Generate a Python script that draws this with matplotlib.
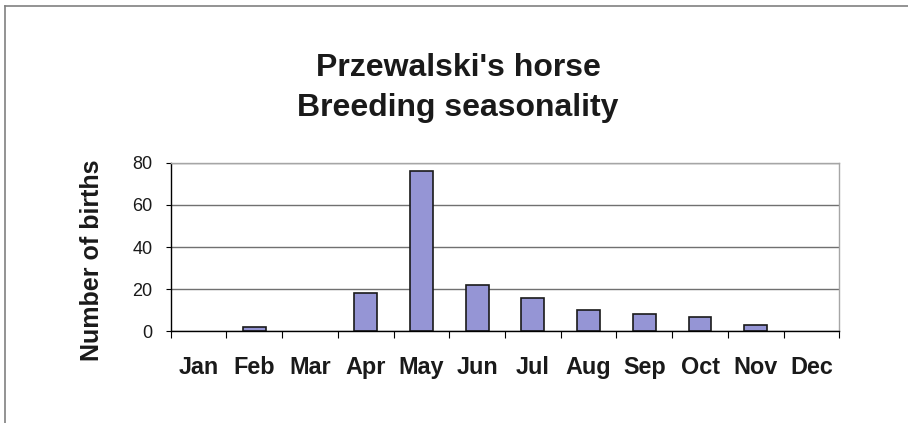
import numpy as np
import matplotlib
matplotlib.use('Agg')
import matplotlib.pyplot as plt
from matplotlib.lines import Line2D

months = ['Jan', 'Feb', 'Mar', 'Apr', 'May', 'Jun', 'Jul', 'Aug', 'Sep', 'Oct', 'Nov', 'Dec']
births = [0, 2, 0, 18, 76, 22, 16, 10, 8, 7, 3, 0]
yticks = [0, 20, 40, 60, 80]

plt.rcParams['font.family'] = ['Liberation Sans', 'DejaVu Sans']

fig = plt.figure(figsize=(9.08, 4.23), dpi=100)
W, H = 908, 423
ax = fig.add_axes([170.7/W, 1-331.3/H, (839.3-170.7)/W, (331.3-162.7)/H])

x = np.arange(len(months))
# empty months get no outline, like the original chart
edge_w = [1.2 if v > 0 else 0 for v in births]
ax.bar(x, births, 0.41, color='#9595d5', edgecolor='#1a1a1a', linewidth=edge_w, zorder=3)

ax.set_xlim(-0.5, len(months)-0.5)
ax.set_ylim(0, 80)
ax.set_yticks(yticks)
ax.set_yticklabels([str(v) for v in yticks], fontsize=13, color='#1a1a1a')
ax.tick_params(axis='y', length=3.6, width=0.8, pad=9.4)

# labels at centres, tick marks at boundaries
ax.set_xticks(x)
ax.set_xticklabels(months, fontsize=16.8, fontweight='bold', color='#1a1a1a')
ax.tick_params(axis='x', which='major', length=0, pad=18)
ax.set_xticks(np.arange(-0.5, len(months)), minor=True)
ax.tick_params(axis='x', which='minor', length=4.8, width=0.8)

ax.grid(axis='y', color='#707070', linewidth=1.0, zorder=0)
ax.spines['left'].set_color('black')
ax.spines['bottom'].set_color('black')
ax.spines['top'].set_color('#a6a6a6')
ax.spines['right'].set_color('#a6a6a6')
for s in ax.spines.values():
    s.set_linewidth(1.0)
    s.set_zorder(4)

fig.text(92/W, 1-260.5/H, 'Number of births', rotation=90, ha='center', va='center',
         fontsize=18, fontweight='bold', color='#1a1a1a')

fig.text(458/W, 1-76/H, "Przewalski's horse", ha='center', va='baseline',
         fontsize=23, fontweight='bold', color='#1a1a1a')
fig.text(458/W, 1-116/H, 'Breeding seasonality', ha='center', va='baseline',
         fontsize=23, fontweight='bold', color='#1a1a1a')

# outer chart frame (top and left edges visible)
fig.add_artist(Line2D([4.5/W, 4.5/W], [0, 1-6/H], transform=fig.transFigure, color='#808080', linewidth=1.2))
fig.add_artist(Line2D([4.5/W, 1], [1-6/H, 1-6/H], transform=fig.transFigure, color='#808080', linewidth=1.2))

plt.savefig('out.png', dpi=100)
